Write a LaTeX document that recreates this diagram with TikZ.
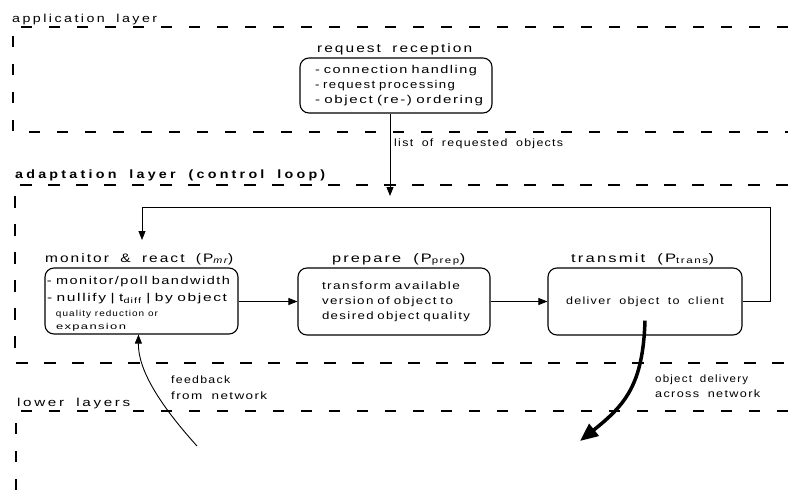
\documentclass[tikz,border=0pt]{standalone}
\usepackage{fontspec}
\usepackage{graphicx}
\setmainfont{Liberation Sans}
\newfontfamily\lyrfont{Liberation Sans}[FakeStretch=1.15,LetterSpace=20,WordSpace=1.8]
\newfontfamily\boldlyrfont{Liberation Sans Bold}[FakeStretch=1.1,LetterSpace=25,WordSpace=1.8]
\newfontfamily\ttlfont{Liberation Sans}[FakeStretch=1.15,LetterSpace=15,WordSpace=1.8]
\newfontfamily\txtfont{Liberation Sans}[FakeStretch=1.15,LetterSpace=12,WordSpace=1.8]
\newcommand\fw[2]{\resizebox{#1}{\height}{#2}}
\newcommand\fwl[3]{\hspace*{#1}\fw{#2}{#3}}
\usetikzlibrary{arrows.meta}
\begin{document}
\begin{tikzpicture}[x=1pt,y=-1pt,
  box/.style={draw, rounded corners=9pt, line width=1.1pt, inner sep=0pt},
  thindash/.style={line width=1.1pt, dash pattern=on 11pt off 17pt},
  thickdash/.style={line width=2.8pt, dash pattern=on 12pt off 16pt},
  arr/.style={-{Triangle[length=9pt,width=7pt]}, line width=0.9pt},
  lyr/.style={font=\lyrfont\fontsize{11.5}{13}\selectfont, inner sep=0pt, anchor=base west},
  ttl/.style={font=\ttlfont\fontsize{12.3}{14}\selectfont, inner sep=0pt, anchor=base},
  txt/.style={font=\txtfont\fontsize{11.3}{15}\selectfont, inner sep=0pt},
  lbl/.style={font=\txtfont\fontsize{10.6}{15}\selectfont, inner sep=0pt, anchor=base west},
]
\useasboundingbox (0,0) rectangle (788,493);
\fill[white] (0,0) rectangle (788,493);
% layers
\draw[thindash] (788,27) -- (13,27) -- (13,132) -- (788,132);
\draw[thickdash] (788,185) -- (15,185) -- (15,363) -- (788,363);
\draw[thindash] (788,411) -- (16,411) -- (16,493);
\node[lyr] (applab) at (12,22) {\fw{145pt}{application layer}};
\node[lyr, font=\boldlyrfont\fontsize{12}{14}\selectfont] (adlab) at (15,178) {\fw{310pt}{adaptation layer (control loop)}};
\node[lyr] (lowlab) at (17,406) {\fw{113pt}{lower layers}};
% request reception
\node[ttl, anchor=base west] (reqttl) at (317,52) {\fw{155pt}{request reception}};
\node[box, minimum width=192pt, minimum height=55pt, text width=184pt, align=left, txt] (req) at (396,85.5)
  {\fwl{11pt}{162pt}{- connection handling}\\
   \fwl{11pt}{140pt}{- request processing}\\
   \fwl{11pt}{168pt}{- object (re-) ordering}};
\coordinate (reqend) at (390,196);
\draw[arr] (req.south -| reqend) -- (reqend);
\node[lbl] (listlab) at (394,146) {\fw{169pt}{list of requested objects}};
% control loop boxes
\node[ttl, anchor=base west] (monttl) at (45,262) {\fw{188pt}{monitor \& react (P\textsubscript{\itshape mr})}};
\node[ttl, anchor=base west] (prepttl) at (332,262) {\fw{133pt}{prepare (P\textsubscript{prep})}};
\node[ttl, anchor=base west] (transttl) at (571,262) {\fw{143pt}{transmit (P\textsubscript{trans})}};
\node[box, minimum width=193pt, minimum height=66pt, text width=189pt, align=left,
      font=\txtfont\fontsize{11.3}{16}\selectfont, inner sep=0pt] (mon) at (141.5,301)
  {\rule{0pt}{14pt}\fw{183pt}{- monitor/poll bandwidth}\\[1pt]%
   \fw{180pt}{- nullify | t\textsubscript{diff} | by object}\\[-1pt]%
   {\fontsize{8.6}{10}\selectfont\fwl{9pt}{102pt}{quality reduction or}}\\[-3pt]%
   {\fontsize{8.6}{10}\selectfont\fwl{9pt}{70pt}{expansion}}};
\node[box, minimum width=192pt, minimum height=67pt, text width=184pt, align=left, txt,
      font=\txtfont\fontsize{10.7}{15}\selectfont] (prep) at (394,301.5)
  {\fwl{20pt}{138pt}{transform available}\\
   \fwl{20pt}{131pt}{version of object to}\\
   \fwl{20pt}{148pt}{desired object quality}};
\node[box, minimum width=194pt, minimum height=67pt, align=center, txt,
      font=\txtfont\fontsize{10.5}{15}\selectfont] (trans) at (645,301.5)
  {\fw{158pt}{deliver object to client}};
\draw[arr] (mon.east |- prep.west) -- (prep.west);
\draw[arr] (prep.east) -- (trans.west);
\coordinate (lr) at (770,207);
\coordinate (ll) at (142,207);
\coordinate (monin) at (142,240);
\draw[arr] (trans.east) -- (trans.east -| lr) -- (lr) -- (ll) -- (monin);
% feedback from network
\coordinate (fbstart) at (197,446);
\draw[arr] (fbstart) .. controls (160,405) and (138,370) .. ([xshift=-3pt]mon.south);
\node[lbl] (fblab) at (171,383) {\fw{59pt}{feedback}};
\node[lbl] (fblab2) at (171,399) {\fw{96pt}{from network}};
% object delivery
\coordinate (odend) at (580,441);
\draw[line width=3.5pt, -{Triangle[length=18pt,width=15pt]}] ([yshift=15pt]trans.south) .. controls (643,385) and (625,405) .. (odend);
\node[lbl] (odlab) at (655,382) {\fw{93pt}{object delivery}};
\node[lbl] (odlab2) at (655,397) {\fw{105pt}{across network}};
\end{tikzpicture}
\end{document}
